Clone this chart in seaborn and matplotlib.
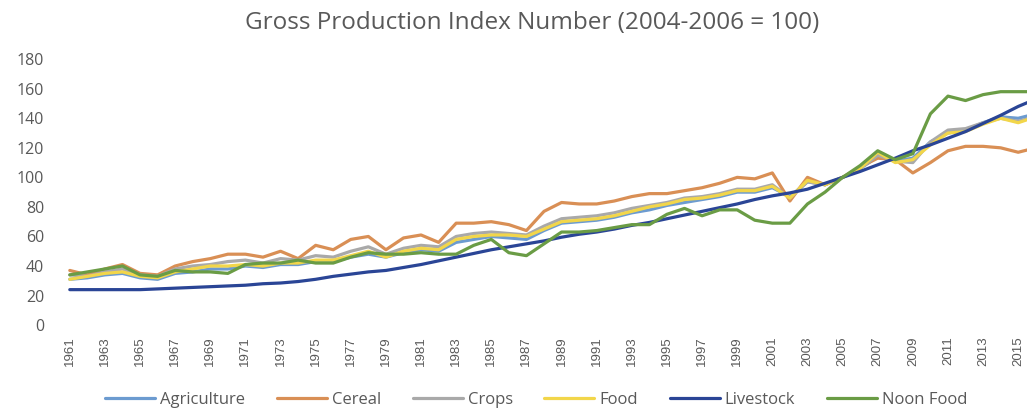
import matplotlib
matplotlib.use("Agg")
import matplotlib.pyplot as plt
import seaborn as sns
import pandas as pd

years = list(range(1961, 2017))

agriculture = [31, 32, 34, 35, 32, 31, 35, 36, 38, 38, 40, 39, 41, 41, 43, 43, 46, 48, 46, 49,
               51, 50, 56, 58, 60, 59, 58, 64, 69, 70, 71, 73, 76, 78, 81, 83, 85, 87, 90, 90,
               93, 87, 97, 95, 100, 106, 114, 111, 113, 124, 130, 132, 137, 141, 140, 143]
cereal = [37, 34, 38, 41, 35, 34, 40, 43, 45, 48, 48, 46, 50, 45, 54, 51, 58, 60, 51, 59,
          61, 56, 69, 69, 70, 68, 64, 77, 83, 82, 82, 84, 87, 89, 89, 91, 93, 96, 100, 99,
          103, 84, 100, 95, 100, 107, 113, 112, 103, 110, 118, 121, 121, 120, 117, 120]
crops = [34, 33, 36, 38, 34, 33, 38, 40, 41, 43, 44, 42, 45, 44, 47, 46, 50, 53, 48, 52,
         54, 53, 60, 62, 63, 62, 61, 67, 72, 73, 74, 76, 79, 81, 83, 86, 87, 89, 92, 92,
         95, 86, 97, 95, 100, 106, 115, 111, 110, 124, 132, 133, 137, 140, 138, 141]
food = [31, 33, 35, 36, 33, 32, 36, 38, 40, 40, 41, 40, 42, 42, 44, 44, 47, 50, 46, 50,
        52, 51, 58, 60, 61, 61, 60, 65, 70, 71, 72, 74, 77, 80, 82, 85, 86, 88, 91, 91,
        94, 86, 98, 95, 100, 106, 117, 110, 112, 122, 130, 131, 136, 140, 137, 141]
livestock = [24, 24, 24, 24, 24, 24.5, 25, 25.5, 26, 26.5, 27, 28, 28.5, 29.5, 31, 33, 34.5, 36, 37, 39,
             41, 43.5, 46, 48.5, 51, 53, 55, 57, 59.5, 61.5, 63, 65, 67.5, 69.5, 72, 74.5, 77, 79.5, 82, 85,
             87.5, 89.5, 92, 96, 100, 104, 108.5, 113, 118, 122, 126.5, 131, 136.5, 142, 148, 153]
noon_food = [34, 36, 38, 40, 34, 33, 37, 36, 36, 35, 41, 42, 42, 44, 42, 42, 46, 49, 48, 48,
             49, 48, 48, 54, 58, 49, 47, 55, 63, 63, 64, 66, 68, 68, 75, 79, 74, 78, 78, 71,
             69, 69, 82, 90, 100, 108, 118, 112, 116, 143, 155, 152, 156, 158, 158, 158]

series_names = ["Agriculture", "Cereal", "Crops", "Food", "Livestock", "Noon Food"]
series_values = [agriculture, cereal, crops, food, livestock, noon_food]
colors = ["#6c9bd0", "#d98f55", "#a9a9a9", "#f2d64a", "#2a4596", "#6a9c45"]

x_ticks = list(range(1961, 2016, 2))
y_ticks = list(range(0, 181, 20))

rows = []
for name, vals in zip(series_names, series_values):
    for yr, v in zip(years, vals):
        rows.append({"Year": yr, "Value": v, "Series": name})
df = pd.DataFrame(rows)

sns.set_style("white")
plt.rcParams["font.family"] = ["Open Sans", "DejaVu Sans"]

fig = plt.figure(figsize=(10.27, 4.11), dpi=100)
ax = fig.add_axes([0.0594, 0.209, 0.9406, 0.647])

sns.lineplot(data=df, x="Year", y="Value", hue="Series", hue_order=series_names,
             palette=dict(zip(series_names, colors)), linewidth=2.3, ax=ax, legend=False)

ax.set_xlim(1960.5, 2015.5)
ax.set_ylim(0, 180)
ax.set_xticks(x_ticks)
ax.set_xticklabels([str(t) for t in x_ticks], rotation=90, fontsize=9.5, color="#595959",
                   family=["Liberation Sans Narrow", "Liberation Sans", "DejaVu Sans"])
ax.set_yticks(y_ticks)
ax.set_yticklabels([str(t) for t in y_ticks], fontsize=11.5, color="#595959")
ax.tick_params(axis="y", length=0, pad=12)
ax.tick_params(axis="x", length=0, pad=8)
ax.set_xlabel("")
ax.set_ylabel("")
for s in ax.spines.values():
    s.set_visible(False)

fig.text(0.518, 0.944, "Gross Production Index Number (2004-2006 = 100)",
         ha="center", va="center", fontsize=17.5, color="#595959")

handles = [plt.Line2D([0], [0], color=c, lw=2.3) for c in colors]
fig.legend(handles, series_names, loc="center", bbox_to_anchor=(0.522, 0.027), ncol=6,
           frameon=False, fontsize=12, handlelength=3.0, handletextpad=0.3,
           columnspacing=1.9, labelcolor="#595959")

fig.savefig("out.png", dpi=100)
